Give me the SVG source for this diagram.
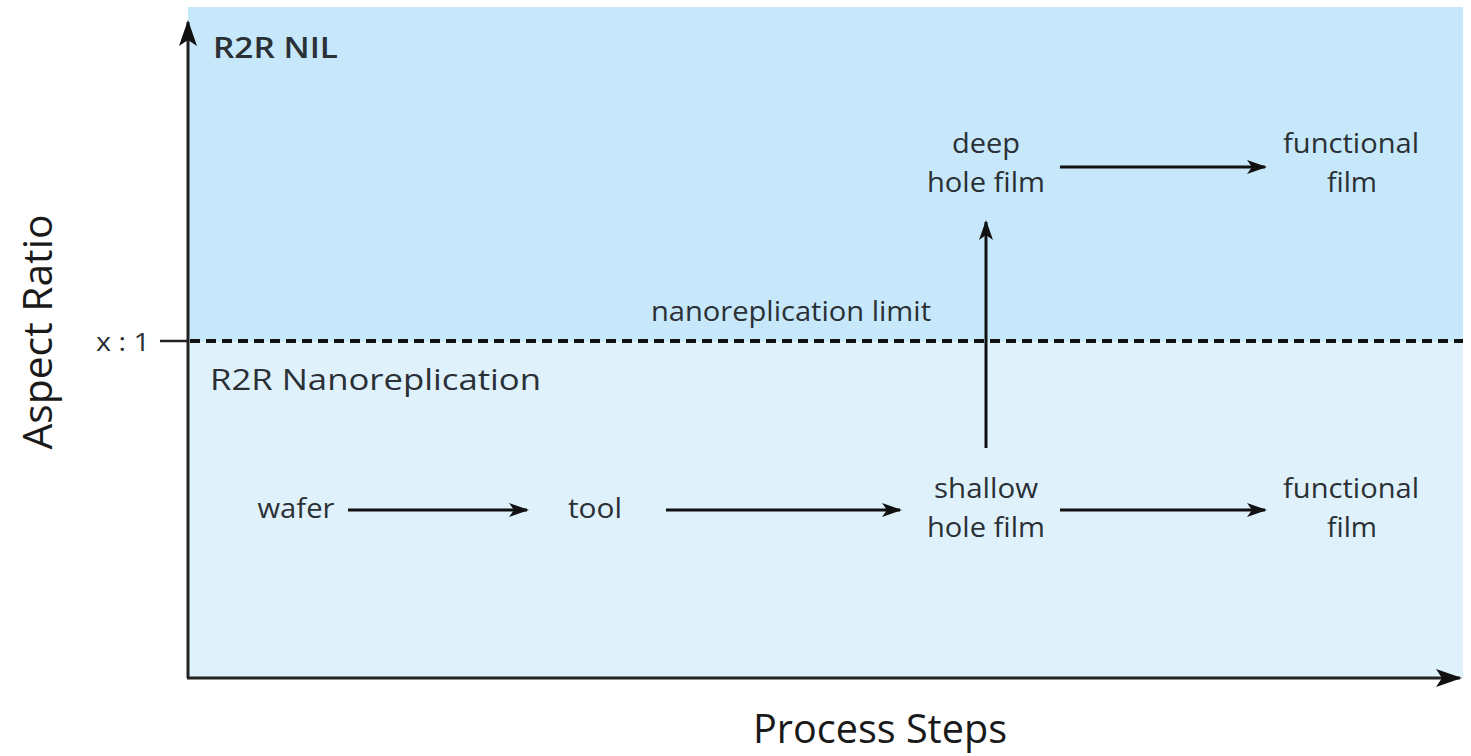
<svg xmlns="http://www.w3.org/2000/svg" width="1471" height="756" viewBox="0 0 1471 756">
<defs>
<marker id="ah" viewBox="0 0 20 14" refX="18" refY="7" markerWidth="20" markerHeight="14" markerUnits="userSpaceOnUse" orient="auto">
<path d="M0,0 L20,7 L0,14 L5,7 Z" fill="#111"/>
</marker>
<marker id="axh" viewBox="0 0 26 18" refX="24" refY="9" markerWidth="26" markerHeight="18" markerUnits="userSpaceOnUse" orient="auto">
<path d="M0,0 L26,9 L0,18 L6,9 Z" fill="#111"/>
</marker>
<style>
.t{font-family:"Open Sans","Liberation Sans",sans-serif;font-size:26.5px;font-weight:500;fill:#2a3035;text-anchor:middle}
.big{font-family:"Open Sans","Liberation Sans",sans-serif;font-size:40px;fill:#1a1a1a;text-anchor:middle}
.c{stroke:#111;stroke-width:3;fill:none;marker-end:url(#ah)}
.ax{stroke:#222;stroke-width:3;fill:none}
</style>
</defs>
<g id="background">
<rect x="188" y="7" width="1275" height="334" fill="#c6e8fa"/>
<rect x="188" y="341" width="1275" height="337" fill="#dff2fc"/>
</g>
<g id="axes">
<path class="ax" d="M188,678 L188,22" marker-end="url(#axh)"/>
<path class="ax" d="M187,678 L1460,678" marker-end="url(#axh)"/>
<line x1="160" y1="341" x2="188" y2="341" stroke="#222" stroke-width="2.5"/>
<line x1="190" y1="341" x2="1463" y2="341" stroke="#111" stroke-width="4" stroke-dasharray="10,6"/>
<text class="t" x="123" y="351" style="font-size:25px" textLength="54" lengthAdjust="spacingAndGlyphs">x : 1</text>
<text class="big" x="0" y="0" transform="translate(52,332) rotate(-90)" textLength="235" lengthAdjust="spacingAndGlyphs">Aspect Ratio</text>
<text class="big" x="880" y="743" textLength="254" lengthAdjust="spacingAndGlyphs">Process Steps</text>
</g>
<g id="region-labels">
<text class="t" x="213" y="58" style="text-anchor:start;font-size:28px;font-weight:600" textLength="125" lengthAdjust="spacingAndGlyphs">R2R NIL</text>
<text class="t" x="210" y="390" style="text-anchor:start;font-size:28.5px" textLength="331" lengthAdjust="spacingAndGlyphs">R2R Nanoreplication</text>
<text class="t" x="791" y="321" textLength="280" lengthAdjust="spacingAndGlyphs">nanoreplication limit</text>
</g>
<g id="node-wafer"><text class="t" x="296" y="518" textLength="77" lengthAdjust="spacingAndGlyphs">wafer</text></g>
<g id="node-tool"><text class="t" x="595" y="518" textLength="54" lengthAdjust="spacingAndGlyphs">tool</text></g>
<g id="node-shallow"><text class="t" x="986" y="498" textLength="104" lengthAdjust="spacingAndGlyphs">shallow</text><text class="t" x="986" y="537" textLength="118" lengthAdjust="spacingAndGlyphs">hole film</text></g>
<g id="node-functional-low"><text class="t" x="1351" y="498" textLength="136" lengthAdjust="spacingAndGlyphs">functional</text><text class="t" x="1352" y="537" textLength="50" lengthAdjust="spacingAndGlyphs">film</text></g>
<g id="node-deep"><text class="t" x="986" y="153" textLength="68" lengthAdjust="spacingAndGlyphs">deep</text><text class="t" x="986" y="192" textLength="118" lengthAdjust="spacingAndGlyphs">hole film</text></g>
<g id="node-functional-high"><text class="t" x="1351" y="153" textLength="136" lengthAdjust="spacingAndGlyphs">functional</text><text class="t" x="1352" y="192" textLength="50" lengthAdjust="spacingAndGlyphs">film</text></g>
<g id="connectors">
<line class="c" x1="348" y1="510" x2="527" y2="510"/>
<line class="c" x1="666" y1="510" x2="900" y2="510"/>
<line class="c" x1="1060" y1="510" x2="1265" y2="510"/>
<line class="c" x1="1060" y1="167" x2="1265" y2="167"/>
<line class="c" x1="986" y1="448" x2="986" y2="222"/>
</g>
</svg>
